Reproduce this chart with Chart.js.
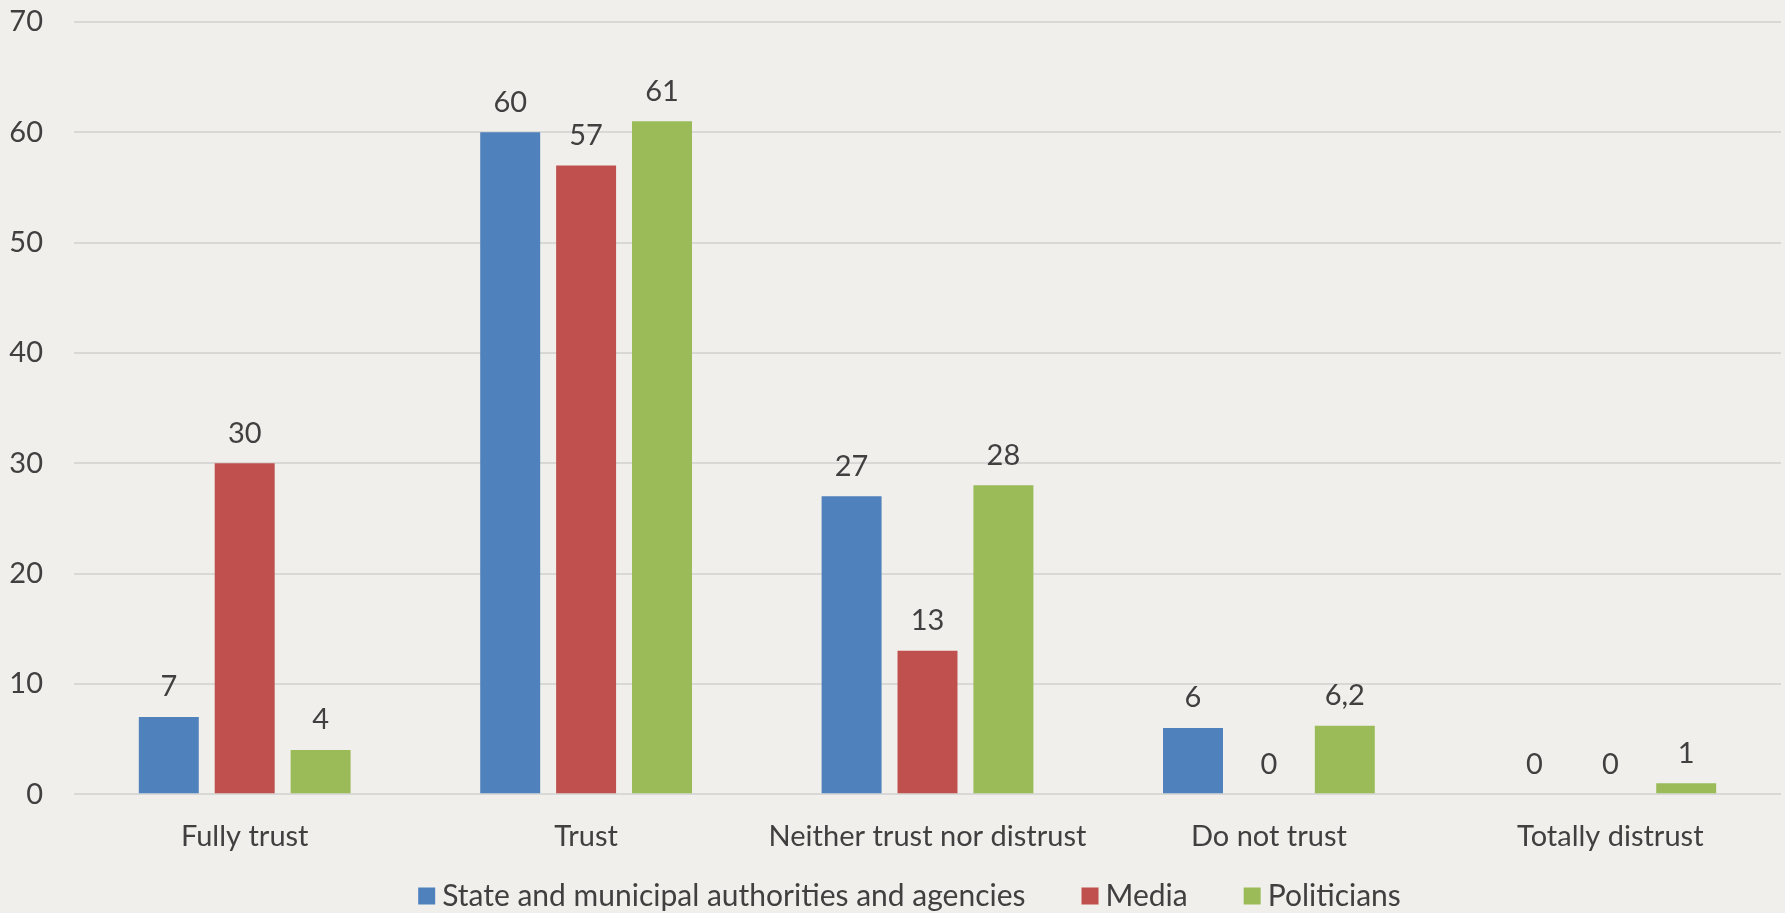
<!DOCTYPE html>
<html>
<head>
<meta charset="utf-8">
<script src="https://cdn.jsdelivr.net/npm/chart.js@4.4.1/dist/chart.umd.min.js"></script>
<style>
  html, body { margin: 0; padding: 0; background: #f0efeb; }
  #wrap { width: 1785px; height: 913px; }
</style>
</head>
<body>
<div id="wrap"><canvas id="chart"></canvas></div>
<script>
var categories = ['Fully trust', 'Trust', 'Neither trust nor distrust', 'Do not trust', 'Totally distrust'];
var authorities = [7, 60, 27, 6, 0];
var media = [30, 57, 13, 0, 0];
var politicians = [4, 61, 28, 6.2, 1];
var yTicks = [0, 10, 20, 30, 40, 50, 60, 70];

var textColor = '#404040';
var fontFamily = 'Lato, "Open Sans", sans-serif';

// value above each bar, comma as decimal separator
var valueLabels = {
  id: 'valueLabels',
  afterDatasetsDraw: function(chart) {
    var ctx = chart.ctx;
    ctx.save();
    ctx.font = '29px ' + fontFamily;
    ctx.fillStyle = textColor;
    ctx.textAlign = 'center';
    ctx.textBaseline = 'middle';
    chart.data.datasets.forEach(function(ds, i) {
      chart.getDatasetMeta(i).data.forEach(function(bar, j) {
        ctx.fillText(String(ds.data[j]).replace('.', ','), bar.x, bar.y - 30);
      });
    });
    ctx.restore();
  }
};

// legend row under the axis labels
var bottomLegend = {
  id: 'bottomLegend',
  afterDraw: function(chart) {
    var ctx = chart.ctx;
    var box = 17, gap = 7, spacing = 56;
    ctx.save();
    ctx.font = '30px ' + fontFamily;
    var items = chart.data.datasets.map(function(ds) {
      return { label: ds.label, color: ds.backgroundColor, w: ctx.measureText(ds.label).width };
    });
    var total = items.reduce(function(s, it) { return s + box + gap + it.w; }, 0) + spacing * (items.length - 1);
    var x = chart.width / 2 + 17 - total / 2;
    var y = 896;
    ctx.textBaseline = 'middle';
    ctx.textAlign = 'left';
    items.forEach(function(it) {
      ctx.fillStyle = it.color;
      ctx.fillRect(x, y - box / 2, box, box);
      ctx.fillStyle = textColor;
      ctx.fillText(it.label, x + box + gap, y);
      x += box + gap + it.w + spacing;
    });
    ctx.restore();
  }
};

var ctx = document.getElementById('chart').getContext('2d');

var myChart = new Chart(ctx, {
  type: 'bar',
  data: {
    labels: categories,
    datasets: [{
      label: 'State and municipal authorities and agencies',
      backgroundColor: '#4f81bd',
      data: authorities
    },
    {
      label: 'Media',
      backgroundColor: '#c0504d',
      data: media
    },
    {
      label: 'Politicians',
      backgroundColor: '#9bbb59',
      data: politicians
    }]
  },
  options: {
    responsive: true,
    maintainAspectRatio: false,
    animation: false,
    layout: {
      padding: { top: 22, right: 4, bottom: 34, left: 0 }
    },
    categoryPercentage: 0.667,
    barPercentage: 0.79,
    plugins: {
      legend: { display: false },
      tooltip: { enabled: false }
    },
    scales: {
      x: {
        grid: { display: false, drawTicks: false },
        border: { display: false },
        ticks: {
          color: textColor,
          padding: 25,
          font: { family: fontFamily, size: 29 }
        }
      },
      y: {
        min: 0,
        max: 70,
        afterFit: function(scale) {
          scale.width = 74;
          // tick padding is horizontal only here
          scale.paddingTop = 0;
          scale.paddingBottom = 0;
        },
        afterBuildTicks: function(scale) {
          scale.ticks = yTicks.map(function(v) { return { value: v }; });
        },
        grid: { color: '#d8d8d6', lineWidth: 2, drawTicks: false },
        border: { display: false },
        ticks: {
          color: textColor,
          padding: 31,
          font: { family: fontFamily, size: 29 }
        }
      }
    }
  },
  plugins: [valueLabels, bottomLegend]
});
</script>
</body>
</html>
